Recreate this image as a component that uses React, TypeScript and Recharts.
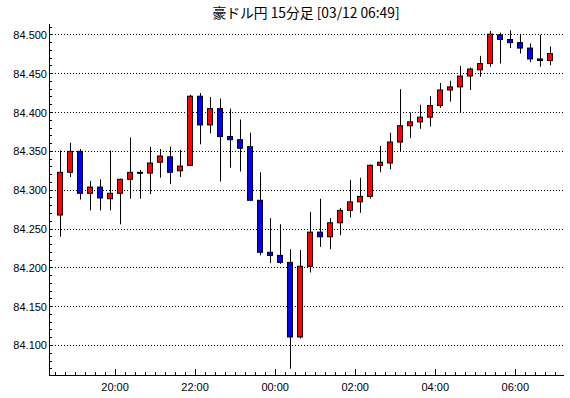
import React from "react";
import { ComposedChart, Bar, XAxis, YAxis, CartesianGrid } from "recharts";

// 15-minute candles, start time of each bar
const times = [
  "18:30", "18:45", "19:00", "19:15", "19:30", "19:45", "20:00", "20:15", "20:30", "20:45",
  "21:00", "21:15", "21:30", "21:45", "22:00", "22:15", "22:30", "22:45", "23:00", "23:15",
  "23:30", "23:45", "00:00", "00:15", "00:30", "00:45", "01:00", "01:15", "01:30", "01:45",
  "02:00", "02:15", "02:30", "02:45", "03:00", "03:15", "03:30", "03:45", "04:00", "04:15",
  "04:30", "04:45", "05:00", "05:15", "05:30", "05:45", "06:00", "06:15", "06:30", "06:45",
];

const opens = [
  84.268, 84.323, 84.350, 84.296, 84.304, 84.289, 84.296, 84.314, 84.322, 84.322,
  84.336, 84.343, 84.325, 84.332, 84.421, 84.384, 84.405, 84.369, 84.365, 84.356,
  84.287, 84.220, 84.216, 84.207, 84.111, 84.202, 84.246, 84.240, 84.258, 84.274,
  84.285, 84.292, 84.332, 84.335, 84.362, 84.383, 84.388, 84.394, 84.409, 84.429,
  84.433, 84.447, 84.455, 84.463, 84.500, 84.494, 84.490, 84.483, 84.469, 84.467,
];

const highs = [
  84.351, 84.361, 84.353, 84.312, 84.314, 84.351, 84.315, 84.368, 84.326, 84.356,
  84.353, 84.356, 84.352, 84.423, 84.425, 84.420, 84.418, 84.405, 84.391, 84.374,
  84.323, 84.264, 84.256, 84.224, 84.223, 84.272, 84.289, 84.264, 84.277, 84.313,
  84.316, 84.333, 84.357, 84.374, 84.430, 84.400, 84.410, 84.421, 84.438, 84.441,
  84.460, 84.458, 84.473, 84.505, 84.503, 84.506, 84.501, 84.489, 84.500, 84.485,
];

const lows = [
  84.240, 84.317, 84.288, 84.274, 84.274, 84.274, 84.256, 84.289, 84.289, 84.295,
  84.316, 84.308, 84.317, 84.332, 84.359, 84.373, 84.311, 84.329, 84.324, 84.286,
  84.216, 84.206, 84.205, 84.070, 84.109, 84.194, 84.227, 84.224, 84.242, 84.265,
  84.271, 84.289, 84.323, 84.327, 84.350, 84.367, 84.379, 84.382, 84.406, 84.414,
  84.400, 84.429, 84.446, 84.459, 84.463, 84.483, 84.476, 84.465, 84.459, 84.461,
];

const closes = [
  84.323, 84.350, 84.296, 84.304, 84.290, 84.296, 84.314, 84.323, 84.323, 84.335,
  84.344, 84.323, 84.331, 84.421, 84.384, 84.405, 84.369, 84.365, 84.354, 84.287,
  84.220, 84.216, 84.207, 84.111, 84.202, 84.246, 84.240, 84.258, 84.274, 84.285,
  84.292, 84.332, 84.336, 84.362, 84.383, 84.388, 84.394, 84.409, 84.429, 84.433,
  84.447, 84.456, 84.463, 84.501, 84.494, 84.490, 84.483, 84.469, 84.467, 84.476,
];

const hourLabels = ["20:00", "22:00", "00:00", "02:00", "04:00", "06:00"];
const priceLabels = [84.1, 84.15, 84.2, 84.25, 84.3, 84.35, 84.4, 84.45, 84.5];

const TITLE = "豪ドル円 15分足 [03/12 06:49]";
const FONT = "'Liberation Sans', Arial, sans-serif";
const UP = "#ff0000";
const DOWN = "#0000ff";

// minutes relative to midnight (evening hours go negative)
const toMinutes = (s: string) => {
  const [h, m] = s.split(":").map(Number);
  const v = h * 60 + m;
  return h >= 12 ? v - 1440 : v;
};

const data = times.map((s, i) => ({
  t: toMinutes(s) + 7.5,
  range: [lows[i], highs[i]],
  open: opens[i],
  high: highs[i],
  low: lows[i],
  close: closes[i],
}));

const labelTicks = hourLabels.map(toMinutes);
const xTicks: number[] = [];
for (let v = -330; v <= 420; v += 15) xTicks.push(v);
const yTicks: number[] = [];
for (let k = 8407; k <= 8451; k++) yTicks.push(k / 100);

const isMajorPrice = (v: number) => priceLabels.some((p) => Math.abs(p - v) < 1e-6);

function Candle(props: any) {
  const { x, y, width, height, payload } = props;
  if (x == null || !payload) return null;
  const { open, close, high, low } = payload;
  const span = high - low || 1;
  const py = (p: number) => y + ((high - p) / span) * height;
  const cx = Math.floor(x + width / 2) + 0.5;
  const top = py(Math.max(open, close));
  const bot = py(Math.min(open, close));
  return (
    <g>
      <line x1={cx} x2={cx} y1={y} y2={y + height} stroke="#000" strokeWidth={1} />
      <rect
        x={cx - 3}
        y={top}
        width={5}
        height={Math.max(bot - top, 1)}
        fill={close >= open ? UP : DOWN}
        stroke="#000"
        strokeWidth={1}
      />
    </g>
  );
}

const LeftTick = (props: any) => {
  const { x, y, payload } = props;
  const major = isMajorPrice(payload.value);
  return (
    <g>
      <line x1={x} x2={x + 3} y1={y} y2={y} stroke="#000" shapeRendering="crispEdges" />
      {major && (
        <text x={x - 2} y={y + 4} textAnchor="end" fontSize={11} fontFamily={FONT} fill="#000">
          {payload.value.toFixed(3)}
        </text>
      )}
    </g>
  );
};

const RightTick = (props: any) => {
  const { x, y } = props;
  return <line x1={x} x2={x - 3} y1={y} y2={y} stroke="#000" shapeRendering="crispEdges" />;
};

const BottomTick = (props: any) => {
  const { x, y, payload } = props;
  const idx = labelTicks.indexOf(payload.value);
  return (
    <g>
      <line x1={x} x2={x} y1={y} y2={y - (idx >= 0 ? 6 : 3)} stroke="#000" shapeRendering="crispEdges" />
      {idx >= 0 && (
        <text x={x} y={y + 16} textAnchor="middle" fontSize={11} fontFamily={FONT} fill="#000">
          {hourLabels[idx]}
        </text>
      )}
    </g>
  );
};

const TopTick = (props: any) => {
  const { x, y, payload } = props;
  const major = labelTicks.indexOf(payload.value) >= 0;
  return <line x1={x} x2={x} y1={y} y2={y + (major ? 6 : 3)} stroke="#000" shapeRendering="crispEdges" />;
};

export default function App() {
  const yDomain = [84.062, 84.514];
  const xDomain = [-339, 433];
  return (
    <div style={{ position: "absolute", left: 0, top: 0, width: 570, height: 398, background: "#fff" }}>
      <div
        style={{
          position: "absolute",
          left: 0,
          top: 4,
          width: 612,
          textAlign: "center",
          fontFamily: "'Noto Sans CJK JP', sans-serif",
          fontSize: 13.8,
          lineHeight: "16px",
          color: "#000",
        }}
      >
        {TITLE}
      </div>
      <ComposedChart width={570} height={398} data={data} margin={{ top: 24, right: 6, bottom: 0, left: 0 }}>
        <CartesianGrid
          vertical={false}
          horizontalValues={priceLabels}
          yAxisId="l"
          xAxisId="b"
          stroke="#000"
          strokeDasharray="1 2"
          shapeRendering="crispEdges"
        />
        <XAxis
          xAxisId="b"
          dataKey="t"
          type="number"
          domain={xDomain}
          allowDataOverflow
          ticks={xTicks}
          interval={0}
          height={23}
          tickSize={0}
          tickMargin={0}
          tick={<BottomTick />}
          axisLine={{ stroke: "#000", shapeRendering: "crispEdges" }}
        />
        <XAxis
          xAxisId="t"
          orientation="top"
          dataKey="t"
          type="number"
          domain={xDomain}
          allowDataOverflow
          ticks={xTicks}
          interval={0}
          height={0}
          tickSize={0}
          tickMargin={0}
          tick={<TopTick />}
          axisLine={{ stroke: "#000", shapeRendering: "crispEdges" }}
        />
        <YAxis
          yAxisId="l"
          type="number"
          domain={yDomain}
          allowDataOverflow
          ticks={yTicks}
          interval={0}
          width={49}
          tickSize={0}
          tickMargin={0}
          tick={<LeftTick />}
          axisLine={{ stroke: "#000", shapeRendering: "crispEdges" }}
        />
        <YAxis
          yAxisId="r"
          orientation="right"
          type="number"
          domain={yDomain}
          allowDataOverflow
          ticks={yTicks}
          interval={0}
          width={0}
          tickSize={0}
          tickMargin={0}
          tick={<RightTick />}
          axisLine={{ stroke: "#000", shapeRendering: "crispEdges" }}
        />
        <Bar
          xAxisId="b"
          yAxisId="l"
          dataKey="range"
          barSize={6}
          isAnimationActive={false}
          shape={(p: any) => <Candle {...p} />}
        />
      </ComposedChart>
    </div>
  );
}
